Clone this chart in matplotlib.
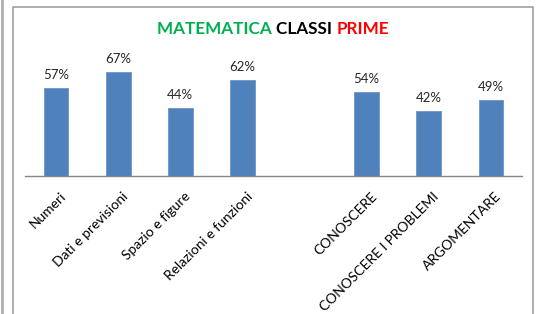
import matplotlib.pyplot as plt
from matplotlib.lines import Line2D
from matplotlib.transforms import ScaledTranslation

# data
ambiti = ["Numeri", "Dati e previsioni", "Spazio e figure", "Relazioni e funzioni"]
ambiti_val = [0.57, 0.67, 0.44, 0.62]
processi = ["CONOSCERE", "CONOSCERE I PROBLEMI", "ARGOMENTARE"]
processi_val = [0.54, 0.42, 0.49]

plt.rcParams['font.family'] = ['Lato', 'DejaVu Sans']

W, H = 539, 314
fig = plt.figure(figsize=(W / 100, H / 100), dpi=100)

# chart area position in pixels (left, right, baseline, top)
x0, x1, yb, yt = 25, 522, 176, 21
ax = fig.add_axes([x0 / W, (H - yb) / H, (x1 - x0) / W, (yb - yt) / H])

labels = ambiti + processi
values = ambiti_val + processi_val
pos = list(range(len(ambiti))) + [len(ambiti) + 1 + i for i in range(len(processi))]

bars = ax.bar(pos, values, width=0.4, color='#4F81BD', edgecolor='#6E96C8', linewidth=0.6)
for b, v in zip(bars, values):
    ax.annotate(f"{round(v * 100)}%", (b.get_x() + b.get_width() / 2, v),
                xytext=(0, 5), textcoords='offset points',
                ha='center', va='bottom', fontsize=9.5, color='#262626')

ax.set_xlim(-0.5, 7.5)
ax.set_ylim(0, 1)
ax.set_xticks(pos)
ax.set_xticklabels(labels, rotation=45, ha='right', rotation_mode='anchor', fontsize=10)
ax.tick_params(axis='x', length=0, pad=10)
shift = ScaledTranslation(4 / 100, 0, fig.dpi_scale_trans)
for lab in ax.get_xticklabels():
    lab.set_transform(lab.get_transform() + shift)
ax.set_yticks([])
for s in ['top', 'right', 'left']:
    ax.spines[s].set_visible(False)
ax.spines['bottom'].set_color('#868686')
ax.spines['bottom'].set_linewidth(1)

# title in three colours
parts = [("MATEMATICA ", '#00B050'), ("CLASSI ", '#000000'), ("PRIME", '#FF0000')]
fig.canvas.draw()
r = fig.canvas.get_renderer()
texts = []
for s, c in parts:
    texts.append(fig.text(0, 0, s, color=c, fontsize=12.3, fontweight='bold', va='baseline'))
widths = [t.get_window_extent(r).width for t in texts]
x = 273 - sum(widths) / 2
for t, w in zip(texts, widths):
    t.set_position((x / W, (H - 34) / H))
    x += w

# chart frame and window edge
def px_line(xs, ys, color, lw):
    fig.add_artist(Line2D([v / W for v in xs], [(H - v) / H for v in ys],
                          color=color, linewidth=lw, transform=fig.transFigure))

px_line([13, 13, 533, 533], [320, 7, 7, 320], '#A0A0A0', 1.2)
px_line([2, 2], [0, 314], '#B0B0B0', 2)

fig.savefig('out.png', dpi=100)
